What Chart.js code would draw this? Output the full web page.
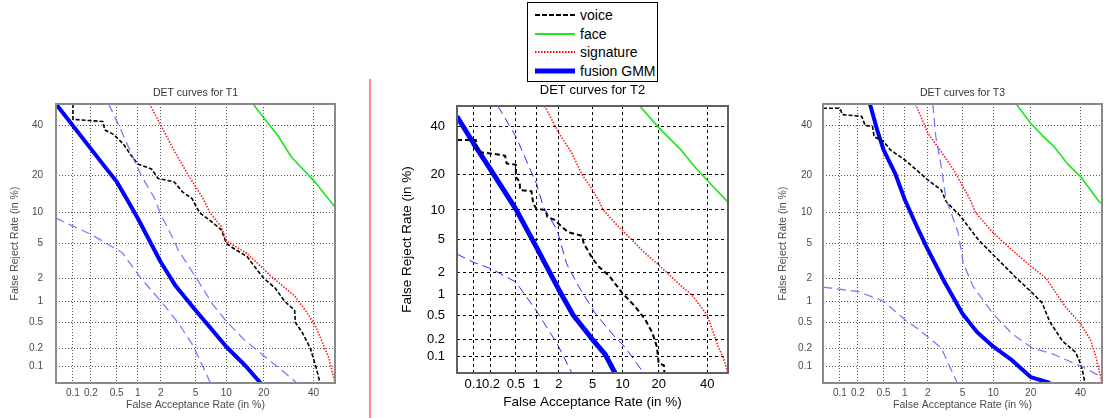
<!DOCTYPE html>
<html>
<head>
<meta charset="utf-8">
<script src="https://cdn.jsdelivr.net/npm/chart.js@4.4.0/dist/chart.umd.min.js"></script>
<style>
  body { margin: 0; background: #fff; width: 1107px; height: 418px; position: relative; overflow: hidden;
         font-family: "Liberation Sans", Arial, sans-serif; }
  canvas { position: absolute; }
  #sep { position: absolute; left: 369px; top: 79px; width: 2px; height: 339px; background: #ff8c8c; }
  #legend { position: absolute; left: 527px; top: 2px; width: 129px; height: 78px; border: 1px solid #000; background: #fff; }
  .item { position: absolute; left: 7px; height: 18px; font-size: 14px; line-height: 18px; color: #000; white-space: nowrap; }
  .item svg { vertical-align: top; margin-right: 5px; }
</style>
</head>
<body>
<canvas id="c1" width="391" height="340" style="left:0px; top:78px"></canvas>
<canvas id="c2" width="395" height="343" style="left:395px; top:75px"></canvas>
<canvas id="c3" width="395" height="340" style="left:765px; top:78px"></canvas>
<div id="sep"></div>
<div id="legend">
  <div class="item" style="top:3px"><svg width="40" height="18"><line x1="0" y1="9" x2="40" y2="9" stroke="#000" stroke-width="2" stroke-dasharray="5 2"/></svg>voice</div>
  <div class="item" style="top:22px"><svg width="40" height="18"><line x1="0" y1="9" x2="40" y2="9" stroke="#1ee61e" stroke-width="2"/></svg>face</div>
  <div class="item" style="top:40px"><svg width="40" height="18"><line x1="0" y1="9" x2="40" y2="9" stroke="#ff0000" stroke-width="2" stroke-dasharray="1.5 1.5"/></svg>signature</div>
  <div class="item" style="top:59px"><svg width="40" height="18"><line x1="0" y1="9" x2="40" y2="9" stroke="#0000ff" stroke-width="5"/></svg>fusion GMM</div>
</div>
<script>
// axis ticks (in %)
const tickValues = [0.1, 0.2, 0.5, 1, 2, 5, 10, 20, 40];
const tickLabels = ['0.1', '0.2', '0.5', '1', '2', '5', '10', '20', '40'];
const axisMin = 0.05, axisMax = 50;

// curves as [false acceptance %, false reject %]
// T1
const t1Voice = [[0.1,50],[0.1,42.8],[0.31,41.8],[0.33,38],[0.45,36],[0.63,31.8],[0.78,27.8],[1.0,24],[1.52,22.2],[1.85,19],[2.9,17.9],[3.6,15],[4.6,13.2],[5.5,10],[7,8.5],[9,6.9],[10,5],[12,4.3],[15,3.6],[17,2.8],[20,2],[24,1.5],[27.6,1],[31.7,0.75],[32,0.5],[35,0.35],[38.5,0.2],[41,0.1],[43,0.05]];
const t1Face = [[16.7,50],[20,43.6],[25,35.5],[30.4,26.5],[40,18.4],[50,11.2]];
const t1Signature = [[1.44,50],[2,40],[2.9,29],[4.2,20],[6,13.2],[7,10],[9,7.4],[10,5.3],[15,3.9],[22.6,2.1],[31.7,1.18],[37,0.7],[41,0.43],[44,0.25],[47,0.14],[50,0.05]];
const t1Fusion = [[0.05,50],[0.35,22.3],[0.5,18],[0.7,13.2],[1,8.9],[1.5,5],[2,3.1],[3,1.6],[5,0.75],[10,0.21],[14.6,0.1],[19,0.05]];
const t1BoundHigh = [[0.38,50],[0.54,40],[1.11,20],[1.68,13.2],[1.95,10],[2.7,6],[3.2,4.3],[4.2,2.8],[5.5,1.73],[7.5,0.9],[10,0.52],[14,0.28],[20,0.15],[25,0.096],[32.7,0.05]];
const t1BoundLow = [[0.05,8.9],[0.2,6.2],[0.6,4],[1.1,2],[2,1],[3.2,0.5],[4.7,0.22],[7.1,0.05]];
// T2
const t2Voice = [[0.05,33.8],[0.11,33.8],[0.12,28.6],[0.26,27.5],[0.34,27],[0.36,23.9],[0.5,23.5],[0.5,19],[0.57,17.5],[0.58,15],[0.85,14.7],[0.9,11.5],[1,10.3],[1.34,10],[1.41,8.6],[1.76,8],[2.6,6],[3.8,5.5],[4,4.5],[5,3],[5.8,2.4],[7.5,1.8],[10,1.05],[13,0.67],[15.8,0.42],[17.9,0.26],[19.4,0.15],[20,0.076],[21.8,0.07],[22,0.05]];
const t2Face = [[14.2,50],[20,39.5],[28.8,29],[34,23],[40,18],[50,11.8]];
const t2Signature = [[1.3,50],[2,36.9],[2.9,28],[3.8,20],[5,15],[5.8,12.3],[6.5,10],[9,7],[11.7,5.2],[15,3.7],[20,2.5],[28.8,1.3],[33,1],[40,0.5],[45.3,0.15],[47.5,0.1],[50,0.05]];
const t2Fusion = [[0.05,44.8],[0.1,32.3],[0.2,21.5],[0.5,10.2],[1,4.1],[2,1.18],[3,0.5],[5,0.2],[6.8,0.11],[8.5,0.05]];
const t2BoundHigh = [[0.26,50],[0.5,35.3],[1,17],[1.25,10.7],[1.9,6.3],[2.5,2.6],[3.5,1.3],[5.4,0.52],[8.5,0.22],[10.5,0.15],[15.3,0.05]];
const t2BoundLow = [[0.05,3.4],[0.1,2.7],[0.2,2.25],[0.5,1.5],[1,0.58],[1.9,0.17],[2.9,0.05]];
// T3
const t3Voice = [[0.05,48],[0.1,48],[0.11,45],[0.23,44.2],[0.26,40],[0.34,39.6],[0.36,35],[0.5,32.9],[0.63,29.4],[1,25.5],[1.53,21.2],[2,18.5],[2.9,15.5],[3.3,12.5],[4.8,9.2],[7.2,5.5],[10,3.75],[12.5,2.8],[15.4,2.05],[20.5,1.3],[24,0.95],[26.8,0.52],[32,0.26],[37.8,0.17],[40,0.11],[41,0.08],[42,0.05]];
const t3Face = [[15.6,50],[20,41],[24.5,35],[28.4,31],[34,24.2],[40,19.6],[48.6,12.5],[50,12]];
const t3Signature = [[1.39,50],[2,36.6],[2.9,28.6],[4,21.9],[6,13],[6.8,10],[10,6.4],[13.5,4.6],[20,2.8],[25.4,2],[33.4,0.83],[40,0.48],[44.6,0.27],[47,0.15],[50,0.05]];
const t3Fusion = [[0.31,50],[0.4,38],[0.5,29.4],[0.74,20.5],[1,13],[1.44,7.5],[2,4.3],[3.2,1.75],[5,0.67],[7,0.36],[10,0.21],[14.4,0.126],[20,0.064],[27,0.05]];
const t3BoundHigh = [[2.3,50],[2.5,35],[2.9,23],[3.3,12.9],[3.6,11],[4.5,6.4],[5.1,3],[6.4,1.58],[10,0.66],[14.4,0.34],[20.5,0.2],[28,0.16],[40,0.1],[50,0.064]];
const t3BoundLow = [[0.05,1.54],[0.2,1.35],[0.5,1],[1,0.55],[1.5,0.4],[2,0.3],[2.9,0.2],[3.5,0.11],[4.4,0.05]];

// inverse normal cdf (Acklam) -> DET axis
function probit(p) {
  const a = [-3.969683028665376e+01, 2.209460984245205e+02, -2.759285104469687e+02, 1.383577518672690e+02, -3.066479806614716e+01, 2.506628277459239e+00];
  const b = [-5.447609879822406e+01, 1.615858368580409e+02, -1.556989798598866e+02, 6.680131188771972e+01, -1.328068155288572e+01];
  const c = [-7.784894002430293e-03, -3.223964580411365e-01, -2.400758277161838e+00, -2.549671924314393e+00, 4.374664141464968e+00, 2.938163982698783e+00];
  const d = [7.784695709041462e-03, 3.224671290700398e-01, 2.445134137142996e+00, 3.754408661907416e+00];
  let q, r;
  if (p < 0.02425) {
    q = Math.sqrt(-2 * Math.log(p));
    return (((((c[0]*q+c[1])*q+c[2])*q+c[3])*q+c[4])*q+c[5]) / ((((d[0]*q+d[1])*q+d[2])*q+d[3])*q+1);
  }
  if (p <= 1 - 0.02425) {
    q = p - 0.5; r = q * q;
    return (((((a[0]*r+a[1])*r+a[2])*r+a[3])*r+a[4])*r+a[5])*q / (((((b[0]*r+b[1])*r+b[2])*r+b[3])*r+b[4])*r+1);
  }
  q = Math.sqrt(-2 * Math.log(1 - p));
  return -(((((c[0]*q+c[1])*q+c[2])*q+c[3])*q+c[4])*q+c[5]) / ((((d[0]*q+d[1])*q+d[2])*q+d[3])*q+1);
}
const toXY = pts => pts.map(p => ({ x: probit(p[0] / 100), y: probit(p[1] / 100) }));

Chart.defaults.font.family = '"Liberation Sans", Arial, sans-serif';

// box round the plot
const framePlugin = {
  id: 'frame',
  afterDatasetsDraw(chart, args, opts) {
    const a = chart.chartArea, ctx = chart.ctx;
    ctx.save();
    ctx.strokeStyle = opts.color;
    ctx.lineWidth = opts.width;
    ctx.strokeRect(a.left, a.top, a.right - a.left, a.bottom - a.top);
    ctx.restore();
  }
};

function makePanel(id, title, s, cfg) {
  const line = (label, pts, color, width, dash) => ({
    label: label, data: toXY(pts), borderColor: color, borderWidth: width, borderDash: dash,
    pointRadius: 0, tension: 0, fill: false, clip: 0, borderJoinStyle: 'round'
  });
  new Chart(document.getElementById(id), {
    type: 'line',
    data: {
      datasets: [
        line('fusion GMM upper', s[4], cfg.boundColor, cfg.boundWidth, [9, 5]),
        line('fusion GMM lower', s[5], cfg.boundColor, cfg.boundWidth, [9, 5]),
        line('face', s[1], '#1ee61e', 1.6, []),
        line('signature', s[2], '#ff1a1a', 1.6, [1.5, 1.5]),
        line('voice', s[0], '#000', cfg.voiceWidth, cfg.voiceDash),
        line('fusion GMM', s[3], '#0000ff', cfg.fusionWidth, [])
      ]
    },
    options: {
      responsive: false,
      animation: false,
      plugins: {
        legend: { display: false },
        tooltip: { enabled: false },
        title: { display: true, text: title, color: cfg.titleColor,
                 font: { size: cfg.titleSize, weight: 'normal' }, padding: cfg.titlePad },
        frame: { color: cfg.frameColor, width: 2 }
      },
      scales: {
        x: {
          type: 'linear', min: probit(axisMin / 100), max: probit(axisMax / 100),
          afterBuildTicks: sc => { sc.ticks = tickValues.map(v => ({ value: probit(v / 100) })); },
          afterFit: sc => { sc.height = cfg.xHeight; },
          ticks: { autoSkip: false, maxRotation: 0, padding: cfg.xTickPad, color: cfg.textColor,
                   font: { size: cfg.tickSize }, callback: (v, i) => tickLabels[i] },
          grid: { color: cfg.gridColor, lineWidth: 1, drawTicks: false },
          border: { display: false, dash: cfg.gridDash },
          title: { display: true, text: 'False Acceptance Rate (in %)', color: cfg.textColor,
                   font: { size: cfg.labelSize }, padding: { top: 0, bottom: cfg.xTitlePad } }
        },
        y: {
          type: 'linear', min: probit(axisMin / 100), max: probit(axisMax / 100),
          afterBuildTicks: sc => { sc.ticks = tickValues.map(v => ({ value: probit(v / 100) })); },
          afterFit: sc => { sc.width = cfg.yWidth; },
          ticks: { autoSkip: false, padding: cfg.yTickPad, color: cfg.textColor,
                   font: { size: cfg.tickSize }, callback: (v, i) => tickLabels[i] },
          grid: { color: cfg.gridColor, lineWidth: 1, drawTicks: false },
          border: { display: false, dash: cfg.gridDash },
          title: { display: true, text: 'False Reject Rate (in %)', color: cfg.textColor,
                   font: { size: cfg.labelSize }, padding: { top: cfg.yTitlePad, bottom: 0 } }
        },
        // empty right axis, same width as the left one, keeps the title centred on the plot
        yRight: {
          type: 'linear', position: 'right', min: 0, max: 1,
          afterFit: sc => { sc.width = cfg.yWidth; },
          ticks: { display: false }, grid: { display: false }, border: { display: false }
        }
      }
    },
    plugins: [framePlugin]
  });
}

const smallCfg = {
  textColor: '#4a4a4a', titleColor: '#333', titleSize: 10.5, labelSize: 10.5, tickSize: 10,
  titlePad: { top: 9, bottom: 4.4 }, xHeight: 35, yWidth: 56,
  xTickPad: 4, yTickPad: 13, xTitlePad: 6.7, yTitlePad: 8.7,
  gridColor: '#555', gridDash: [1, 2], frameColor: '#8a8a8a',
  boundColor: 'rgba(90,90,255,0.8)', boundWidth: 1.3, voiceWidth: 1.6, voiceDash: [4, 2], fusionWidth: 4
};

makePanel('c1', 'DET curves for T1', [t1Voice, t1Face, t1Signature, t1Fusion, t1BoundHigh, t1BoundLow], smallCfg);

makePanel('c2', 'DET curves for T2', [t2Voice, t2Face, t2Signature, t2Fusion, t2BoundHigh, t2BoundLow], {
  textColor: '#000', titleColor: '#000', titleSize: 13, labelSize: 13.5, tickSize: 13,
  titlePad: { top: 7.2, bottom: 8.2 }, xHeight: 45, yWidth: 62,
  xTickPad: 4, yTickPad: 12, xTitlePad: 8, yTitlePad: 4,
  gridColor: '#000', gridDash: [3, 3], frameColor: '#606060',
  boundColor: '#2b2bff', boundWidth: 1, voiceWidth: 2, voiceDash: [5, 3], fusionWidth: 5
});

makePanel('c3', 'DET curves for T3', [t3Voice, t3Face, t3Signature, t3Fusion, t3BoundHigh, t3BoundLow],
  Object.assign({}, smallCfg, { yWidth: 58, yTickPad: 11, yTitlePad: 11.7 }));
</script>
</body>
</html>
